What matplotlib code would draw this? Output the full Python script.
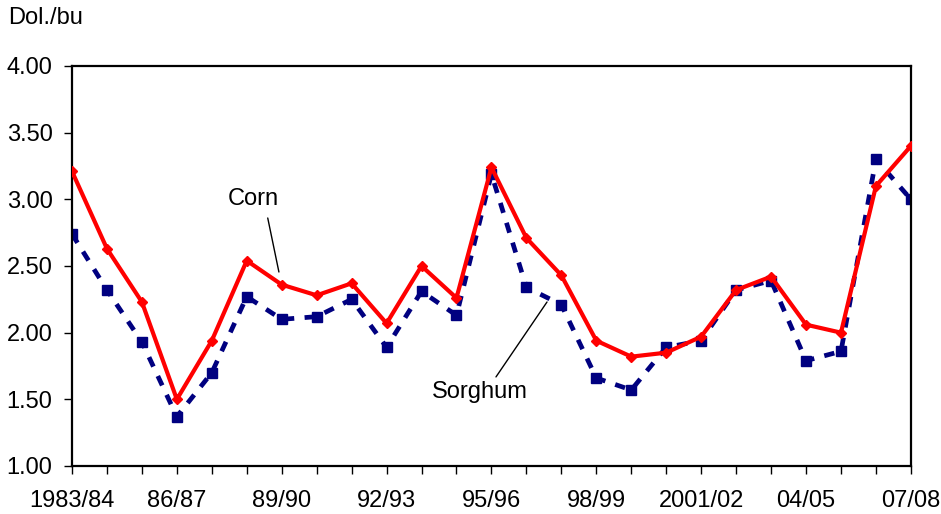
import matplotlib.pyplot as plt

plt.rcParams["font.family"] = ["Liberation Sans", "DejaVu Sans"]

# ── Data ────────────────────────────────────────────
seasons = ["1983/84", "84/85", "85/86", "86/87", "87/88", "88/89", "89/90", "90/91",
           "91/92", "92/93", "93/94", "94/95", "95/96", "96/97", "97/98", "98/99",
           "99/00", "2000/01", "2001/02", "02/03", "03/04", "04/05", "05/06", "06/07",
           "07/08"]
corn = [3.21, 2.63, 2.23, 1.50, 1.94, 2.54, 2.36, 2.28, 2.37, 2.07, 2.50, 2.26, 3.24,
        2.71, 2.43, 1.94, 1.82, 1.85, 1.97, 2.32, 2.42, 2.06, 2.00, 3.10, 3.40]
sorghum = [2.74, 2.32, 1.93, 1.37, 1.70, 2.27, 2.10, 2.12, 2.25, 1.89, 2.31, 2.13, 3.19,
           2.34, 2.21, 1.66, 1.57, 1.89, 1.94, 2.32, 2.39, 1.79, 1.86, 3.30, 3.00]
shown_labels = ["1983/84", "86/87", "89/90", "92/93", "95/96", "98/99", "2001/02",
                "04/05", "07/08"]

RED = "#ff0000"
NAVY = "#000080"
FS = 17

fig = plt.figure(figsize=(9.41, 5.14), dpi=100)
ax = fig.add_axes([0.0765, 0.0934, 0.8915, 0.7782])

x = list(range(len(seasons)))
ax.plot(x, sorghum, color=NAVY, lw=3.4, ls=(0, (2.2, 2.2)), marker="s", ms=7.5,
        zorder=2)
ax.plot(x, corn, color=RED, lw=3.0, marker="D", ms=5, zorder=3)

# ── Labels with leader lines ───────────────────────
line_kw = dict(arrowstyle="-", color="black", lw=1, shrinkA=0, shrinkB=0)
ax.text(5.18, 3.0, "Corn", fontsize=FS, ha="center", va="center")
ax.annotate("", xy=(5.92, 2.455), xytext=(5.6, 2.86), arrowprops=line_kw)
ax.text(11.67, 1.555, "Sorghum", fontsize=FS, ha="center", va="center")
ax.annotate("", xy=(13.59, 2.23), xytext=(12.13, 1.668), arrowprops=line_kw)

# ── Axes ────────────────────────────────────────────
ax.set_xlim(0, len(seasons) - 1)
ax.set_ylim(1.0, 4.0)
ax.set_yticks([1.0, 1.5, 2.0, 2.5, 3.0, 3.5, 4.0])
ax.set_yticklabels([f"{v:.2f}" for v in ax.get_yticks()], fontsize=FS)
ax.set_xticks(x, minor=True)
ax.set_xticks([seasons.index(s) for s in shown_labels])
ax.set_xticklabels(shown_labels, fontsize=FS)
ax.tick_params(which="both", direction="out", length=6, width=1, color="black")
ax.tick_params(axis="x", pad=11)
ax.tick_params(axis="y", pad=8)
for sp in ax.spines.values():
    sp.set_linewidth(1.6)
fig.text(8 / 941, 1 - 18 / 514, "Dol./bu", fontsize=FS, ha="left", va="center")

fig.savefig("out.png", dpi=100)
